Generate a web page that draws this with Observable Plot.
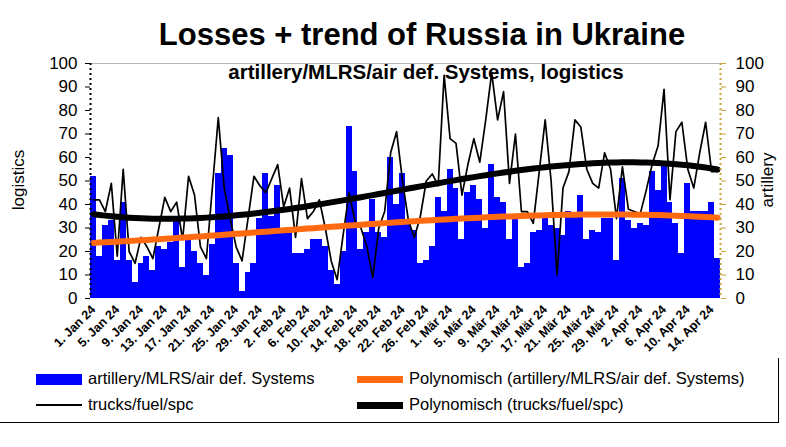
<!DOCTYPE html>
<html><head><meta charset="utf-8">
<script src="https://cdn.jsdelivr.net/npm/d3@7"></script>
<script src="https://cdn.jsdelivr.net/npm/@observablehq/plot@0.6"></script>
<style>
body{margin:0;background:#fff;font-family:"Liberation Sans",Arial,sans-serif;}
#wrap{position:relative;width:786px;height:447px;overflow:hidden;background:#fff;}
#chart{position:absolute;left:0;top:0;}
.t{position:absolute;white-space:nowrap;color:#000;line-height:1;}
#title{left:422px;top:19px;transform:translateX(-50%);font-size:31px;font-weight:bold;}
#subtitle{left:426px;top:62px;transform:translateX(-50%);font-size:20.5px;font-weight:bold;}
#ylab{left:18px;top:180px;transform:translate(-50%,-50%) rotate(-90deg);font-size:17px;}
#ylab2{left:767px;top:180px;transform:translate(-50%,-50%) rotate(-90deg);font-size:17px;}
.leg{position:absolute;font-size:16.5px;white-space:nowrap;line-height:1;}
.sw{position:absolute;}
#box{position:absolute;left:-2px;top:358px;width:780px;height:64px;border-right:1px solid #000;border-bottom:1px solid #000;}
g[aria-label="x-axis tick label"] text{font-weight:bold;}
</style></head>
<body><div id="wrap">
<div id="box"></div>
<div id="chart"></div>
<div class="t" id="title">Losses + trend of Russia in Ukraine</div>
<div class="t" id="subtitle">artillery/MLRS/air def. Systems, logistics</div>
<div class="t" id="ylab">logistics</div>
<div class="t" id="ylab2">artillery</div>
<div id="legend"></div>
</div>
<script>
// daily values, 1 Jan 24 .. 15 Apr 24
const artillery = [52,18,31,33,16,41,16,7,15,18,12,22,21,24,35,13,25,20,15,10,23,
  53,64,61,15,3,11,15,34,53,35,48,28,29,19,19,21,25,25,22,12,6,
  20,73,54,21,28,42,28,26,60,40,53,33,29,15,16,22,43,37,55,47,25,
  45,48,42,30,57,43,41,25,34,13,15,28,29,34,31,30,27,37,35,44,25,29,
  28,34,34,16,51,33,30,32,31,54,46,58,41,32,19,49,37,37,37,41,17];
const trucks = [42,42,37,49,18,55,20,15,26,22,17,30,43,37,41,25,52,44,22,17,47,
  77,47,34,22,16,34,52,48,45,51,57,39,47,26,51,34,37,42,30,16,8,
  27,45,33,30,22,9,30,37,62,71,50,33,26,35,50,53,48,95,68,66,44,
  57,68,58,76,96,76,88,49,70,37,37,32,54,76,50,10,47,54,76,73,55,49,
  47,62,55,34,56,38,37,36,46,57,65,89,42,71,75,55,47,62,75,54,54];
const tickLabels = ["1. Jan 24","5. Jan 24","9. Jan 24","13. Jan 24","17. Jan 24","21. Jan 24","25. Jan 24","29. Jan 24",
  "2. Feb 24","6. Feb 24","10. Feb 24","14. Feb 24","18. Feb 24","22. Feb 24","26. Feb 24",
  "1. Mär 24","5. Mär 24","9. Mär 24","13. Mär 24","17. Mär 24","21. Mär 24","25. Mär 24","29. Mär 24",
  "2. Apr 24","6. Apr 24","10. Apr 24","14. Apr 24"];
const yTicks = [0,10,20,30,40,50,60,70,80,90,100];
const seriesNames = ["artillery/MLRS/air def. Systems","Polynomisch (artillery/MLRS/air def. Systems)","trucks/fuel/spc","Polynomisch (trucks/fuel/spc)"];

const BLUE = "#0000ff", ORANGE = "#ff6a10", GOLD = "#c9a13b";

// least-squares polynomial trend (like the spreadsheet trendline)
function polyfit(xs, ys, deg){
  const n = deg + 1;
  const A = Array.from({length:n}, () => new Array(n+1).fill(0));
  xs.forEach((t, k) => {
    const p = []; for (let j = 0; j < n; j++) p.push(Math.pow(t, j));
    for (let r = 0; r < n; r++){ for (let c = 0; c < n; c++) A[r][c] += p[r]*p[c]; A[r][n] += p[r]*ys[k]; }
  });
  for (let c = 0; c < n; c++){
    let piv = c; for (let r = c+1; r < n; r++) if (Math.abs(A[r][c]) > Math.abs(A[piv][c])) piv = r;
    [A[c], A[piv]] = [A[piv], A[c]];
    for (let r = 0; r < n; r++){ if (r === c) continue; const f = A[r][c]/A[c][c]; for (let k = c; k <= n; k++) A[r][k] -= f*A[c][k]; }
  }
  const co = A.map((row, i) => row[n]/row[i]);
  return t => co.reduce((s, c, j) => s + c*Math.pow(t, j), 0);
}
const N = artillery.length;
const ts = artillery.map((_, i) => i/(N-1));
const fArt = polyfit(ts, artillery, 3);
const fTr = polyfit(ts, trucks, 3);
const data = artillery.map((a, i) => ({i, art: a, trucks: trucks[i], artFit: fArt(i/(N-1)), trFit: fTr(i/(N-1))}));
const tickPos = tickLabels.map((_, k) => 4*k + 0.5);

const chart = Plot.plot({
  width: 786, height: 447,
  marginLeft: 90, marginRight: 66, marginTop: 63, marginBottom: 149,
  x: {domain: [0, N], axis: null, label: null},
  y: {domain: [0, 100], axis: null, label: null},
  style: {fontFamily: "'Liberation Sans', Arial, sans-serif", background: "transparent", color: "#000"},
  marks: [
    Plot.rectY(data, {x1: "i", x2: d => d.i + 1, y: "art", fill: BLUE, shapeRendering: "crispEdges"}),
    Plot.ruleY([100], {stroke: "#b5b5b5", strokeWidth: 1.2}),
    Plot.line(data, {x: d => d.i + 0.5, y: "trucks", stroke: "#000", strokeWidth: 1.7}),
    Plot.line(data, {x: d => d.i + 0.5, y: "artFit", stroke: ORANGE, strokeWidth: 6}),
    Plot.line(data, {x: d => d.i + 0.5, y: "trFit", stroke: "#000", strokeWidth: 6}),
    Plot.ruleX([0], {stroke: "#000", strokeWidth: 2, strokeDasharray: "2,3"}),
    Plot.ruleX([N], {stroke: GOLD, strokeWidth: 2, strokeDasharray: "2,3"}),
    Plot.axisY(yTicks, {anchor: "left", label: null, tickSize: 5, tickPadding: 8, fontSize: 17}),
    Plot.axisY(yTicks, {anchor: "right", label: null, tickSize: 5, tickPadding: 10, fontSize: 17, stroke: GOLD}),
    Plot.axisX(tickPos, {anchor: "bottom", label: null, tickFormat: d => tickLabels[Math.round((d - 0.5)/4)], tickRotate: -45, tickSize: 0, tickPadding: 9, fontSize: 12.5, fontWeight: "bold"})
  ]
});
document.getElementById("chart").appendChild(chart);

// legend
const leg = document.getElementById("legend");
const items = [
  {name: seriesNames[0], x: 36, y: 379, sw: {w: 46, h: 11, c: BLUE}},
  {name: seriesNames[1], x: 357, y: 379, sw: {w: 46, h: 7, c: ORANGE}},
  {name: seriesNames[2], x: 36, y: 405, sw: {w: 46, h: 2, c: "#000"}},
  {name: seriesNames[3], x: 357, y: 405, sw: {w: 46, h: 7, c: "#000"}}
];
items.forEach(it => {
  const s = document.createElement("div");
  s.className = "sw";
  s.style.cssText = `left:${it.x}px;top:${it.y - it.sw.h/2}px;width:${it.sw.w}px;height:${it.sw.h}px;background:${it.sw.c}`;
  leg.appendChild(s);
  const t = document.createElement("div");
  t.className = "leg";
  t.style.cssText = `left:${it.x + 52}px;top:${it.y - 9}px;`;
  t.textContent = it.name;
  leg.appendChild(t);
});
</script>
</body></html>
